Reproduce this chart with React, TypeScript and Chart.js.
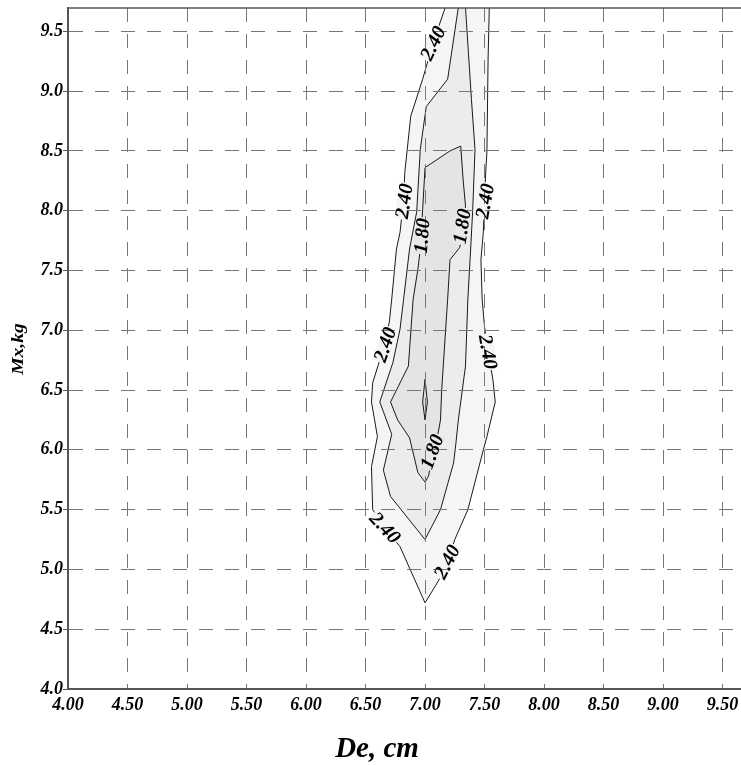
import React, { useEffect, useRef } from "react";
import { Chart, registerables } from "chart.js";

Chart.register(...registerables);

// ---- axes ----
const xTickValues = [4.0, 4.5, 5.0, 5.5, 6.0, 6.5, 7.0, 7.5, 8.0, 8.5, 9.0, 9.5];
const yTickValues = [4.0, 4.5, 5.0, 5.5, 6.0, 6.5, 7.0, 7.5, 8.0, 8.5, 9.0, 9.5];
const xRange = [4.0, 9.655];
const yRange = [4.0, 9.695];
const xTitle = "De, cm";
const yTitle = "Mx,kg";

// ---- contour polygons [De, Mx] ----
// outermost contour, level 2.40 (left side top->bottom, then right side bottom->top)
const contour240: number[][] = [
  [7.18, 9.78], [7.17, 9.70], [7.07, 9.41], [6.98, 9.10], [6.88, 8.79], [6.83, 8.32],
  [6.82, 8.10], [6.79, 7.82], [6.76, 7.68], [6.72, 7.26], [6.70, 7.07], [6.66, 6.88],
  [6.56, 6.56], [6.55, 6.40], [6.60, 6.11], [6.55, 5.86], [6.56, 5.50], [6.66, 5.35],
  [6.79, 5.19], [7.00, 4.72],
  [7.11, 4.90], [7.19, 5.06], [7.25, 5.25], [7.36, 5.50], [7.49, 6.00], [7.52, 6.11],
  [7.59, 6.40], [7.57, 6.59], [7.53, 6.82], [7.50, 7.03], [7.48, 7.26], [7.47, 7.59],
  [7.49, 7.82], [7.50, 8.10], [7.51, 8.32], [7.52, 8.49], [7.53, 9.27], [7.54, 9.70],
  [7.55, 9.78], [7.18, 9.78],
];
// intermediate (unlabelled) contour
const contourMid: number[][] = [
  [7.29, 9.78], [7.28, 9.70], [7.19, 9.10], [7.01, 8.87], [6.96, 8.51], [6.93, 7.99],
  [6.87, 7.68], [6.82, 7.26], [6.79, 7.01], [6.73, 6.73], [6.62, 6.40], [6.72, 6.13],
  [6.65, 5.83], [6.71, 5.61], [7.00, 5.25],
  [7.13, 5.50], [7.24, 5.89], [7.26, 6.06], [7.28, 6.25], [7.34, 6.70], [7.36, 7.26],
  [7.38, 7.62], [7.40, 7.99], [7.42, 8.51], [7.39, 8.93], [7.34, 9.70], [7.34, 9.78],
  [7.29, 9.78],
];
// level 1.80
const contour180: number[][] = [
  [7.00, 5.73], [6.94, 5.81], [6.87, 6.10], [6.77, 6.25], [6.71, 6.40], [6.86, 6.70],
  [6.90, 7.26], [6.94, 7.51], [6.96, 7.68], [6.98, 8.01], [7.00, 8.36], [7.21, 8.50],
  [7.30, 8.54], [7.32, 8.26], [7.34, 8.04], [7.32, 7.80], [7.29, 7.69], [7.21, 7.59],
  [7.19, 7.26], [7.14, 6.50], [7.13, 6.25], [7.11, 6.14], [7.06, 5.96], [7.03, 5.78],
  [7.00, 5.73],
];
// innermost small closed contour
const contourInner: number[][] = [
  [7.00, 6.59], [6.98, 6.40], [7.00, 6.25], [7.02, 6.40], [7.00, 6.59],
];

// ---- contour labels ----
const contourLabels = [
  { text: "2.40", x: 7.067, y: 9.40, angle: -64 },
  { text: "2.40", x: 6.824, y: 8.08, angle: -82 },
  { text: "1.80", x: 6.975, y: 7.79, angle: -85 },
  { text: "1.80", x: 7.311, y: 7.87, angle: -81 },
  { text: "2.40", x: 7.504, y: 8.08, angle: -80 },
  { text: "2.40", x: 6.664, y: 6.88, angle: -71 },
  { text: "2.40", x: 7.529, y: 6.82, angle: 80 },
  { text: "1.80", x: 7.059, y: 5.985, angle: -70 },
  { text: "2.40", x: 6.664, y: 5.348, angle: 47 },
  { text: "2.40", x: 7.185, y: 5.064, angle: -63 },
];

const FONT_FAMILY = "'Liberation Serif', 'Times New Roman', serif";
const fillOuter = "#f5f5f5";
const fillMid = "#ececec";
const fill180 = "#e4e4e4";
const fillInner = "#dcdcdc";

const toPts = (arr: number[][]) => arr.map(([x, y]) => ({ x, y }));

export default function App() {
  const canvasRef = useRef<HTMLCanvasElement | null>(null);

  useEffect(() => {
    const canvas = canvasRef.current;
    if (!canvas) return;

    const labelBgPlugin = {
      id: "labelBg",
      afterDatasetsDraw(chart: any) {
        const { ctx, scales } = chart;
        ctx.save();
        ctx.font = `italic bold 20px ${FONT_FAMILY}`;
        for (const l of contourLabels) {
          const px = scales.x.getPixelForValue(l.x);
          const py = scales.y.getPixelForValue(l.y);
          const w = ctx.measureText(l.text).width;
          ctx.save();
          ctx.translate(px, py);
          ctx.rotate((l.angle * Math.PI) / 180);
          ctx.fillStyle = l.text === "1.80" ? "#e8e8e8" : fillOuter;
          ctx.fillRect(-w / 2 - 1, -7, w + 2, 14);
          ctx.restore();
        }
        ctx.restore();
      },
    };

    const textPlugin = {
      id: "texts",
      afterDraw(chart: any) {
        const { ctx, scales, chartArea } = chart;
        ctx.save();
        // top frame line
        ctx.strokeStyle = "#555";
        ctx.lineWidth = 1.5;
        ctx.beginPath();
        ctx.moveTo(chartArea.left, chartArea.top);
        ctx.lineTo(chartArea.right, chartArea.top);
        ctx.stroke();

        // contour labels
        ctx.fillStyle = "#000";
        ctx.font = `italic bold 20px ${FONT_FAMILY}`;
        ctx.textAlign = "center";
        ctx.textBaseline = "middle";
        for (const l of contourLabels) {
          const px = scales.x.getPixelForValue(l.x);
          const py = scales.y.getPixelForValue(l.y);
          ctx.save();
          ctx.translate(px, py);
          ctx.rotate((l.angle * Math.PI) / 180);
          ctx.fillText(l.text, 0, 1);
          ctx.restore();
        }

        // axis titles
        ctx.font = `italic bold 29px ${FONT_FAMILY}`;
        ctx.textAlign = "center";
        ctx.textBaseline = "alphabetic";
        ctx.fillText(xTitle, chartArea.left + 309, 757);

        ctx.save();
        ctx.translate(23, 349);
        ctx.rotate(-Math.PI / 2);
        ctx.scale(1.22, 1);
        ctx.font = `italic bold 16px ${FONT_FAMILY}`;
        ctx.textAlign = "center";
        ctx.textBaseline = "alphabetic";
        ctx.fillText(yTitle, 0, 0);
        ctx.restore();
        ctx.restore();
      },
    };

    const lineDs = (data: number[][], bg: string, order: number) => ({
      data: toPts(data),
      borderColor: "#1a1a1a",
      borderWidth: 1,
      backgroundColor: bg,
      fill: "shape",
      pointRadius: 0,
      tension: 0,
      showLine: true,
      clip: 0,
      order,
    });

    const tickFont = { family: FONT_FAMILY, size: 18, style: "italic" as const, weight: "bold" as const };

    const chart = new Chart(canvas, {
      type: "line",
      data: {
        datasets: [
          lineDs(contour240, fillOuter, 4),
          lineDs(contourMid, fillMid, 3),
          lineDs(contour180, fill180, 2),
          lineDs(contourInner, fillInner, 1),
        ] as any,
      },
      options: {
        animation: false,
        responsive: false,
        maintainAspectRatio: false,
        layout: { padding: { top: 8, right: 0, left: 0, bottom: 0 } },
        plugins: {
          legend: { display: false },
          tooltip: { enabled: false },
          title: { display: false },
        },
        scales: {
          x: {
            type: "linear",
            min: xRange[0],
            max: xRange[1],
            afterBuildTicks: (s: any) => {
              s.ticks = xTickValues.map((v) => ({ value: v }));
            },
            afterFit: (s: any) => {
              s.height = 76;
              s.paddingLeft = 0;
              s.paddingRight = 0;
            },
            grid: {
              color: "#777",
              lineWidth: 1,
              drawTicks: false,
              z: 1,
            },
            border: { display: true, color: "#555", width: 2, dash: [14, 12], z: 2 },
            ticks: {
              autoSkip: false,
              maxRotation: 0,
              padding: 6,
              color: "#000",
              font: tickFont,
              callback: (v: any) => Number(v).toFixed(2),
            },
          },
          y: {
            type: "linear",
            min: yRange[0],
            max: yRange[1],
            afterBuildTicks: (s: any) => {
              s.ticks = yTickValues.map((v) => ({ value: v }));
            },
            afterFit: (s: any) => {
              s.width = 68;
              s.paddingTop = 0;
              s.paddingBottom = 0;
            },
            grid: {
              color: "#777",
              lineWidth: 1,
              drawTicks: true,
              tickLength: 5,
              tickColor: "#555",
              tickBorderDash: [],
              z: 1,
            },
            border: { display: true, color: "#555", width: 2, dash: [14, 12], z: 2 },
            ticks: {
              autoSkip: false,
              padding: 0,
              color: "#000",
              font: tickFont,
              callback: (v: any) => Number(v).toFixed(1),
            },
          },
        },
      } as any,
      plugins: [labelBgPlugin, textPlugin],
    });

    return () => chart.destroy();
  }, []);

  return (
    <div style={{ position: "absolute", left: 0, top: 0, width: 741, height: 765, background: "#fff" }}>
      <canvas ref={canvasRef} width={741} height={765} style={{ display: "block", width: 741, height: 765 }} />
    </div>
  );
}
